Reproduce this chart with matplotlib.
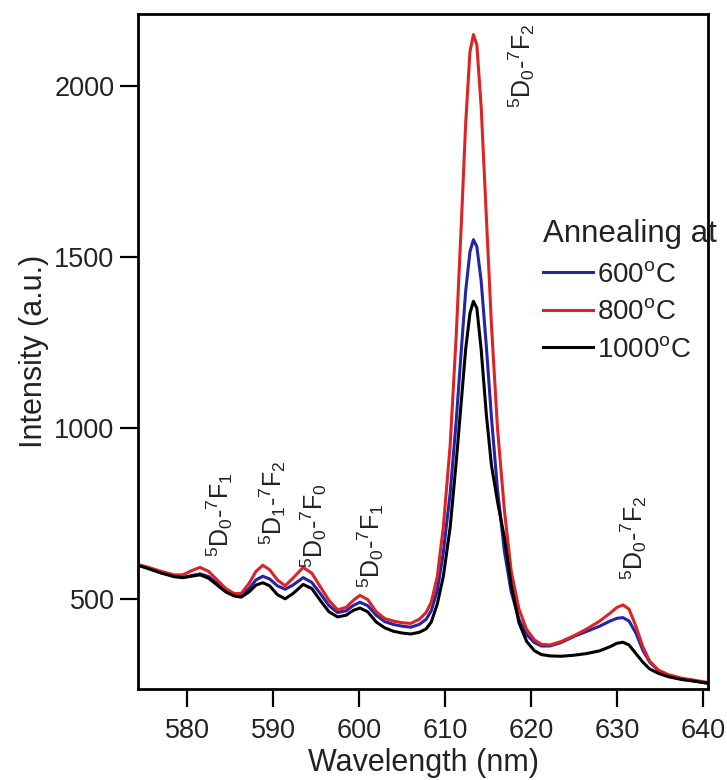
import matplotlib
matplotlib.use('Agg')
import matplotlib.pyplot as plt

plt.rcParams['font.family'] = ['Liberation Sans', 'DejaVu Sans']
plt.rcParams['mathtext.fontset'] = 'custom'
plt.rcParams['mathtext.rm'] = 'Liberation Sans'
plt.rcParams['mathtext.it'] = 'Liberation Sans'

# wavelength grid (nm)
wl = [574.3, 575.5, 577, 578.5, 579.5, 580.5, 581.5, 582.5, 583.5, 584.5,
      585.5, 586.3, 587.2, 588, 588.8, 589.6, 590.5, 591.4, 592.3, 593.5,
      594.5, 595.5, 596.5, 597.5, 598.5, 599.3, 600.1, 601, 602, 603,
      604, 605, 606, 607, 607.8, 608.4, 609.1, 609.8, 610.6, 611.3,
      611.9, 612.4, 612.9, 613.3, 613.7, 614.2, 614.8, 615.4, 616.1, 616.9,
      617.7, 618.6, 619.5, 620.4, 621.2, 622.2, 623.5, 625, 626.5, 628,
      629.2, 630, 630.7, 631.4, 632.2, 633, 633.8, 634.8, 636, 637.5,
      639, 640.6]

int_600 = [598, 590, 577, 565, 562, 568, 573, 565, 545, 525,
           512, 512, 530, 555, 566, 558, 538, 528, 540, 562,
           548, 515, 480, 460, 465, 480, 490, 480, 452, 433,
           425, 420, 417, 425, 440, 465, 525, 635, 810, 1020,
           1230, 1400, 1515, 1550, 1530, 1430, 1240, 1030, 820, 640,
           520, 440, 395, 372, 362, 362, 372, 390, 405, 420,
           435, 443, 445, 435, 400, 350, 315, 290, 276, 266,
           260, 253]

int_800 = [600, 592, 580, 570, 570, 582, 592, 580, 555, 530,
           515, 516, 545, 580, 598, 585, 555, 538, 560, 592,
           575, 535, 495, 468, 475, 495, 510, 498, 462, 442,
           435, 430, 428, 440, 460, 490, 565, 710, 950, 1270,
           1600, 1890, 2100, 2150, 2120, 1940, 1620, 1300, 1000, 760,
           580, 470, 410, 380, 367, 365, 375, 392, 412, 435,
           458, 475, 482, 470, 420, 360, 318, 292, 278, 268,
           262, 255]

int_1000 = [598, 588, 575, 565, 562, 566, 570, 560, 540, 520,
            508, 505, 520, 540, 547, 538, 512, 500, 515, 542,
            530, 495, 462, 447, 452, 466, 473, 462, 432, 415,
            405, 400, 397, 402, 412, 432, 485, 565, 710, 900,
            1080, 1230, 1335, 1370, 1350, 1230, 1040, 890, 785, 680,
            540, 430, 375, 348, 337, 333, 332, 335, 340, 348,
            360, 370, 373, 365, 340, 315, 295, 282, 272, 264,
            259, 253]

series_labels = ['600$^\\mathregular{o}$C', '800$^\\mathregular{o}$C', '1000$^\\mathregular{o}$C']
series_colors = ['#2424a8', '#dc2424', '#000000']

# transition labels: (text, x, y)
transitions = [
    ('$^5$D$_0$-$^7$F$_1$', 583.8, 745),
    ('$^5$D$_1$-$^7$F$_2$', 589.9, 780),
    ('$^5$D$_0$-$^7$F$_0$', 594.7, 715),
    ('$^5$D$_0$-$^7$F$_1$', 601.3, 655),
    ('$^5$D$_0$-$^7$F$_2$', 618.9, 2060),
    ('$^5$D$_0$-$^7$F$_2$', 631.9, 680),
]

fig = plt.figure(figsize=(7.27, 7.8), dpi=100)
ax = fig.add_axes([0.19, 0.117, 0.784, 0.865])

for y, lab, col in zip([int_600, int_800, int_1000], series_labels, series_colors):
    ax.plot(wl, y, color=col, lw=2.2, label=lab)

for txt, x, y in transitions:
    ax.text(x, y, txt, rotation=90, ha='center', va='center', fontsize=18,
            color='#222222')

ax.set_xlim(574.3, 640.6)
ax.set_ylim(237, 2210)
ax.set_xticks([580, 590, 600, 610, 620, 630, 640])
ax.set_yticks([500, 1000, 1500, 2000])
ax.tick_params(direction='out', length=13, width=1.6, labelsize=19.5, pad=4,
               labelcolor='#222222')
ax.tick_params(axis='x', pad=8)
for s in ax.spines.values():
    s.set_linewidth(2)

ax.set_xlabel('Wavelength (nm)', fontsize=22, labelpad=3, color='#222222')
ax.set_ylabel('Intensity (a.u.)', fontsize=22, labelpad=4, color='#222222')

leg = ax.legend(title='Annealing at', loc='upper left', bbox_to_anchor=(0.71, 0.696),
                frameon=False, fontsize=20, title_fontsize=22.5, handlelength=1.8,
                handletextpad=0.15, labelspacing=0.42, borderaxespad=0, borderpad=0)
leg._legend_box.align = 'left'
leg._legend_box.sep = 9
plt.setp(leg.get_texts(), color='#222222')
leg.get_title().set_color('#222222')

fig.savefig('out.png', dpi=100)
